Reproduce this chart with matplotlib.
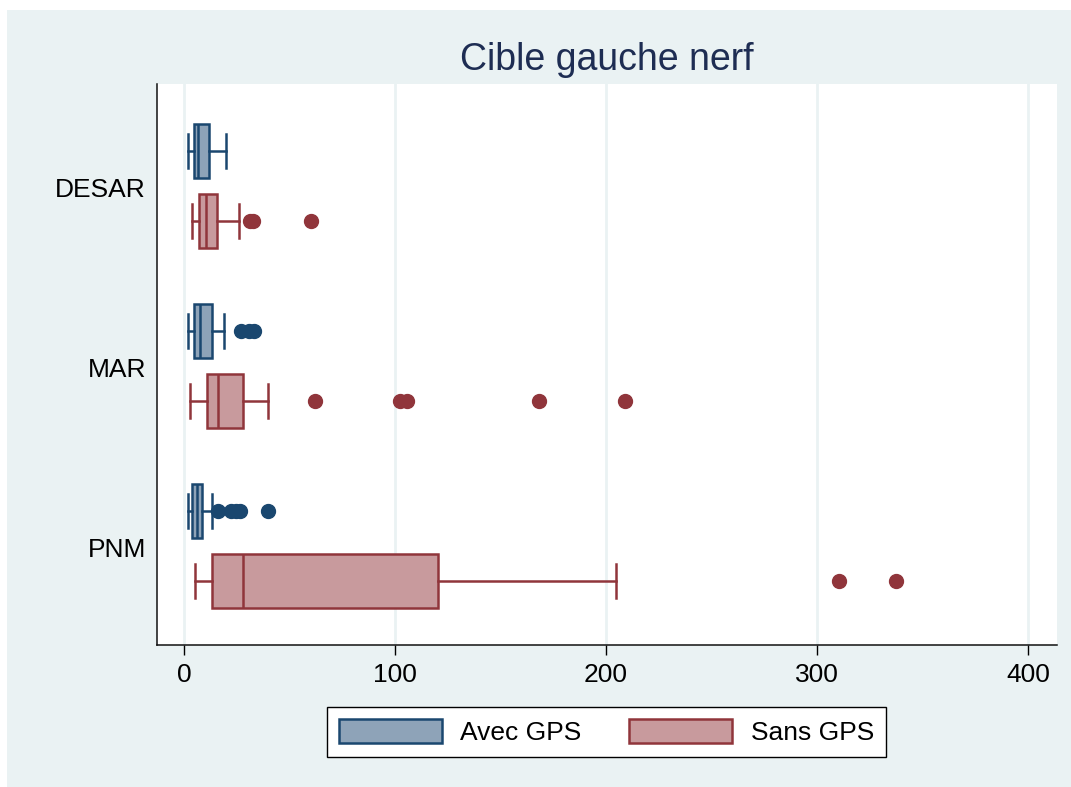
import matplotlib
matplotlib.use("Agg")
import matplotlib.pyplot as plt
from matplotlib.patches import Rectangle, Patch

plt.rcParams['font.family'] = ['Liberation Sans', 'DejaVu Sans']

categories = ["DESAR", "MAR", "PNM"]
groups = ["Avec GPS", "Sans GPS"]

# Box statistics: [whisker low, Q1, median, Q3, whisker high]
avec_stats = [
    [2.0, 4.5, 6.5, 12.0, 20.0],
    [2.0, 4.5, 7.5, 13.5, 19.0],
    [2.0, 3.8, 6.2, 8.4, 13.5],
]
avec_fliers = [
    [],
    [27.0, 31.0, 33.0],
    [16.0, 22.5, 24.5, 26.5, 40.0],
]
sans_stats = [
    [4.0, 7.0, 10.5, 15.5, 26.0],
    [3.0, 11.0, 16.0, 28.0, 40.0],
    [5.0, 13.3, 28.0, 120.5, 204.5],
]
sans_fliers = [
    [31.5, 32.5, 60.0],
    [62.0, 102.5, 105.5, 168.0, 209.0],
    [310.5, 337.5],
]

navy = "#1a476f"
navy_face = "#8ea3b8"
maroon = "#90353b"
maroon_face = "#c89a9d"
bg = "#eaf2f3"

fig = plt.figure(figsize=(10.71, 7.87), dpi=100, facecolor="white")
fig.patches.append(Rectangle((7 / 1071, 0), 1, 1 - 10 / 787, transform=fig.transFigure,
                             facecolor=bg, edgecolor="none", zorder=-10))
ax = fig.add_axes([157 / 1071, 1 - 645 / 787, (1057 - 157) / 1071, (645 - 84.3) / 787])
ax.set_facecolor("white")


def make_stats(vals, fl):
    return dict(whislo=vals[0], q1=vals[1], med=vals[2], q3=vals[3], whishi=vals[4], fliers=fl)


for stats_list, fl_list, offset, edge, face in [
    (avec_stats, avec_fliers, -0.2, navy, navy_face),
    (sans_stats, sans_fliers, 0.19, maroon, maroon_face),
]:
    st = [make_stats(v, f) for v, f in zip(stats_list, fl_list)]
    pos = [i + offset for i in range(len(categories))]
    ax.bxp(st, positions=pos, widths=0.3, capwidths=0.19, orientation='horizontal',
           patch_artist=True, showfliers=True,
           boxprops=dict(facecolor=face, edgecolor=edge, linewidth=1.8),
           medianprops=dict(color=edge, linewidth=1.8),
           whiskerprops=dict(color=edge, linewidth=1.8),
           capprops=dict(color=edge, linewidth=1.8),
           flierprops=dict(marker='o', markerfacecolor=edge, markeredgecolor=edge,
                           markersize=10, linestyle='none'))

ax.set_xlim(-12.8, 413.7)
ax.set_ylim(2.544, -0.571)
ax.set_xticks([0, 100, 200, 300, 400])
ax.set_xticklabels(["0", "100", "200", "300", "400"])
ax.set_yticks(range(len(categories)))
ax.set_yticklabels(categories)
ax.tick_params(axis='x', length=7, width=1, pad=6, labelsize=19, colors='black')
ax.tick_params(axis='y', length=0, pad=8, labelsize=19, colors='black')
ax.xaxis.grid(True, color=bg, linewidth=2)
ax.yaxis.grid(False)
ax.set_axisbelow(True)
for s in ["top", "right"]:
    ax.spines[s].set_visible(False)
for s in ["left", "bottom"]:
    ax.spines[s].set_color("#111111")
    ax.spines[s].set_linewidth(1.1)

fig.text((157 + 1057) / 2 / 1071, 1 - 60 / 787, "Cible gauche nerf", ha='center', va='center',
         fontsize=27, color="#1e2d53")

handles = [Patch(facecolor=navy_face, edgecolor=navy, linewidth=1.8, label=groups[0]),
           Patch(facecolor=maroon_face, edgecolor=maroon, linewidth=1.8, label=groups[1])]
leg = fig.legend(handles=handles, loc='center', bbox_to_anchor=(606.5 / 1071, 1 - 732 / 787),
                 ncol=2, fontsize=19, frameon=True, fancybox=False, edgecolor='black',
                 facecolor='white', framealpha=1, handlelength=3.9, handleheight=1.05,
                 columnspacing=1.8, handletextpad=0.7, borderpad=0.45)
leg.get_frame().set_linewidth(1.0)

fig.savefig("out.png", dpi=100, facecolor=fig.get_facecolor())
